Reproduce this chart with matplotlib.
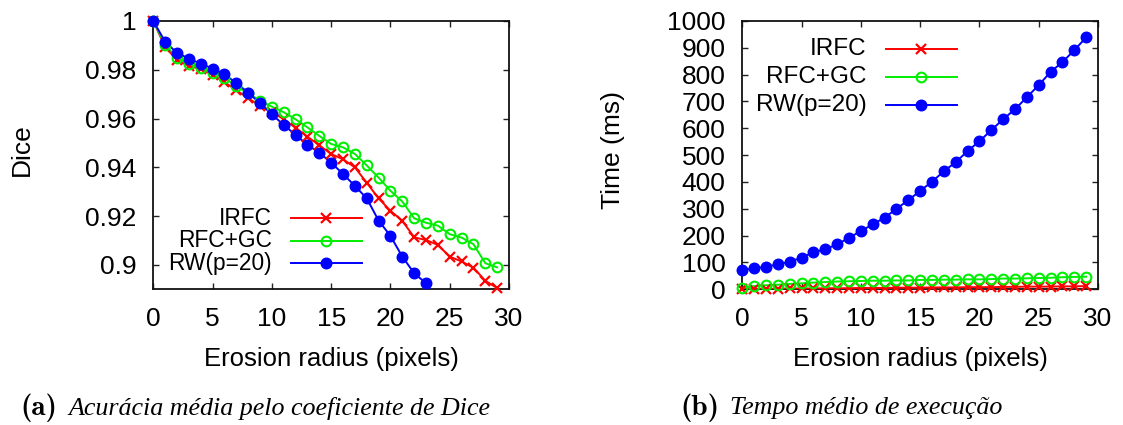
import numpy as np
import matplotlib
matplotlib.use("Agg")
import matplotlib.pyplot as plt
from matplotlib.ticker import FixedLocator, FuncFormatter

# Erosion radius (pixels)
radius = list(range(30))

# Dice accuracy per method
irfc_dice = [1.0, 0.9893, 0.9840, 0.9815, 0.9803, 0.9780, 0.9750, 0.9716, 0.9684, 0.9652,
             0.9628, 0.9597, 0.9562, 0.9526, 0.9490, 0.9455, 0.9433, 0.9400, 0.9337, 0.9273,
             0.9222, 0.9181, 0.9113, 0.9102, 0.9082, 0.9034, 0.9014, 0.8989, 0.8935, 0.8905]
gc_dice = [1.0, 0.9902, 0.9849, 0.9823, 0.9808, 0.9787, 0.9767, 0.9733, 0.9703, 0.9673,
           0.9649, 0.9626, 0.9597, 0.9564, 0.9529, 0.9496, 0.9482, 0.9455, 0.9408, 0.9358,
           0.9304, 0.9260, 0.9191, 0.9173, 0.9161, 0.9126, 0.9112, 0.9085, 0.9007, 0.8990]
rw_dice = [1.0, 0.9915, 0.9869, 0.9846, 0.9825, 0.9805, 0.9781, 0.9746, 0.9706, 0.9663,
           0.9617, 0.9574, 0.9533, 0.9492, 0.9460, 0.9419, 0.9373, 0.9324, 0.9273, 0.9182,
           0.9119, 0.9034, 0.8966, 0.8925, 0.8851]

# Mean execution time (ms)
irfc_time = [1, 1, 2, 2, 3, 3, 3, 4, 4, 4, 5, 5, 5, 6, 6, 6, 7, 7, 7, 8,
             8, 8, 9, 9, 10, 10, 10, 11, 11, 12]
gc_time = [6, 12, 15, 17, 20, 22, 25, 27, 29, 30, 31, 32, 32, 33, 33, 35, 35, 36, 36, 37,
           37, 38, 40, 40, 41, 42, 43, 45, 46, 47]
rw_time = [72, 78, 84, 93, 103, 118, 138, 150, 167, 192, 217, 242, 267, 300, 332, 367,
           401, 440, 474, 515, 552, 593, 634, 671, 716, 761, 810, 847, 891, 939]

labels = ["IRFC", "RFC+GC", "RW(p=20)"]
dice_ticks = [0.9, 0.92, 0.94, 0.96, 0.98, 1.0]
time_ticks = list(range(0, 1001, 100))
x_ticks = [0, 5, 10, 15, 20, 25, 30]

SANS = "Liberation Sans"
FS = 19

styles = [
    dict(color="#ff0000", marker="x", ms=7, mew=1.6, mfc="none"),
    dict(color="#00ee00", marker="o", ms=7, mew=1.5, mfc="none"),
    dict(color="#0000ff", marker="o", ms=7.6, mew=1.0, mfc="#0000ff"),
]

fig = plt.figure(figsize=(11.23, 4.25), dpi=100)
W, H = 1123, 425


def px_axes(x0, x1, ytop, ybot):
    return fig.add_axes([x0 / W, 1 - ybot / H, (x1 - x0) / W, (ybot - ytop) / H])


def draw_series(ax, xs, ys, st, ylim):
    xs = np.asarray(xs[:len(ys)], dtype=float)
    ys = np.asarray(ys, dtype=float)
    ax.plot(xs, ys, color=st["color"], lw=1.4, zorder=3)
    inside = (ys >= ylim[0]) & (ys <= ylim[1])
    ax.plot(xs[inside], ys[inside], ls="none", marker=st["marker"], ms=st["ms"],
            mew=st["mew"], mfc=st["mfc"], mec=st["color"], clip_on=False, zorder=4)


def draw_key(ax, text_x, line_x0, line_x1, ys, fs):
    for lab, st, y in zip(labels, styles, ys):
        ax.text(text_x, y, lab, transform=ax.transAxes, ha="right", va="center",
                fontsize=fs, family=SANS)
        ax.plot([line_x0, line_x1], [y, y], transform=ax.transAxes, color=st["color"],
                lw=1.4, clip_on=False, zorder=5)
        ax.plot([(line_x0 + line_x1) / 2], [y], transform=ax.transAxes, ls="none",
                marker=st["marker"], ms=st["ms"], mew=st["mew"], mfc=st["mfc"],
                mec=st["color"], clip_on=False, zorder=6)


def style_axes(ax, ylim, yticks, yfmt):
    ax.set_xlim(0, 30)
    ax.set_ylim(*ylim)
    ax.xaxis.set_major_locator(FixedLocator(x_ticks))
    ax.yaxis.set_major_locator(FixedLocator(yticks))
    ax.yaxis.set_major_formatter(FuncFormatter(yfmt))
    ax.tick_params(direction="in", top=True, right=True, length=4, width=1.0,
                   labelsize=FS, color="#222222")
    ax.tick_params(axis="x", pad=13)
    ax.tick_params(axis="y", pad=12)
    for lab in ax.get_xticklabels() + ax.get_yticklabels():
        lab.set_family(SANS)
    for sp in ax.spines.values():
        sp.set_linewidth(1.3)
        sp.set_color("#111111")
    ax.set_xlabel("Erosion radius (pixels)", fontsize=18.5, family=SANS)
    ax.xaxis.set_label_coords(0.5, -0.215)


# (a) Dice accuracy
ax1 = px_axes(153.3, 509, 21, 289.3)
dice_lim = (0.89, 1.0)
for ys, st in zip([irfc_dice, gc_dice, rw_dice], styles):
    draw_series(ax1, radius, ys, st, dice_lim)
style_axes(ax1, dice_lim, dice_ticks, lambda v, p: f"{v:g}")
ax1.set_ylabel("Dice", fontsize=FS, family=SANS)
ax1.yaxis.set_label_coords(-0.337, 0.52)
draw_key(ax1, 0.334, 0.386, 0.586, [0.264, 0.181, 0.097], 16.4)

# (b) Execution time
ax2 = px_axes(742.3, 1098, 21, 289.3)
time_lim = (0, 1000)
for ys, st in zip([irfc_time, gc_time, rw_time], styles):
    draw_series(ax2, radius, ys, st, time_lim)
style_axes(ax2, time_lim, time_ticks, lambda v, p: f"{v:g}")
ax2.set_ylabel("Time (ms)", fontsize=FS, family=SANS)
ax2.yaxis.set_label_coords(-0.33, 0.52)
draw_key(ax2, 0.349, 0.403, 0.603, [0.897, 0.793, 0.688], 17.5)

# Sub-captions
cap_y = 1 - 408 / H
fig.text(20.7 / W, cap_y, "(a)", fontsize=21, family="cmb10", ha="left", va="center")
fig.text(68.3 / W, cap_y, "Acurácia média pelo coeficiente de Dice", fontsize=18.7,
         family="Liberation Serif", style="italic", ha="left", va="center")
fig.text(680 / W, cap_y, "(b)", fontsize=21, family="cmb10", ha="left", va="center")
fig.text(730 / W, cap_y, "Tempo médio de execução", fontsize=18.7,
         family="Liberation Serif", style="italic", ha="left", va="center")

fig.savefig("out.png", dpi=100)
